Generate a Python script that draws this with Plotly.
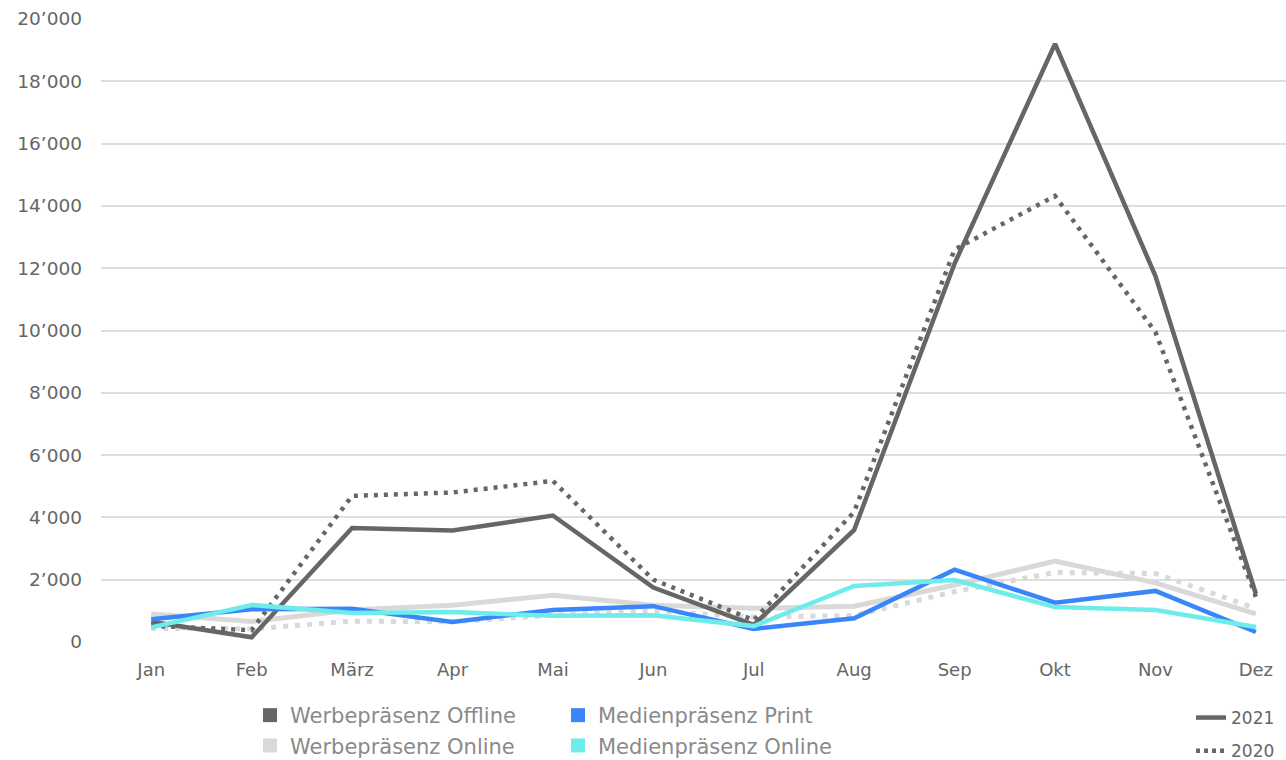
import plotly.graph_objects as go

# Monthly counts per category, 2021 vs 2020
months = ["Jan", "Feb", "März", "Apr", "Mai", "Jun", "Jul", "Aug", "Sep", "Okt", "Nov", "Dez"]

werbe_offline_2021 = [650, 150, 3660, 3580, 4060, 1750, 550, 3600, 12150, 19200, 11750, 1550]
werbe_offline_2020 = [520, 380, 4690, 4800, 5170, 2000, 700, 4180, 12600, 14320, 9950, 1450]
werbe_online_2021 = [900, 660, 1030, 1180, 1500, 1180, 1080, 1150, 1830, 2600, 1900, 900]
werbe_online_2020 = [440, 420, 670, 650, 860, 1000, 800, 850, 1620, 2230, 2200, 1080]
medien_print = [730, 1050, 1070, 640, 1030, 1150, 420, 760, 2320, 1260, 1640, 320]
medien_online = [470, 1190, 930, 960, 840, 860, 510, 1800, 1990, 1120, 1030, 480]

y_ticks = list(range(0, 20001, 2000))
y_tick_text = [f"{v:,}".replace(",", "\u2019") for v in y_ticks]

DARK = "#666666"
LIGHT = "#d9d9d9"
BLUE = "#3a86f8"
CYAN = "#6eebeb"
FONT = "DejaVu Sans"

fig = go.Figure()

def add_line(values, color, dash="solid", width=4.5):
    fig.add_trace(go.Scatter(
        x=months, y=values, mode="lines",
        line=dict(color=color, width=width, dash=dash),
        showlegend=False, hoverinfo="skip",
    ))

# drawing order: light grey lines underneath, then dark grey, then blue and cyan
add_line(werbe_online_2020, LIGHT, dash="5px,7px", width=5)
add_line(werbe_online_2021, LIGHT, width=5)
add_line(werbe_offline_2020, DARK, dash="4px,6px", width=4.5)
add_line(werbe_offline_2021, DARK, width=4.5)
add_line(medien_print, BLUE)
add_line(medien_online, CYAN)

# legend entries (squares for categories, line samples for years)
def legend_square(name, color, legend):
    fig.add_trace(go.Scatter(
        x=[None], y=[None], mode="markers", name=name,
        marker=dict(symbol="square", size=14, color=color),
        legend=legend, hoverinfo="skip",
    ))

legend_square("Werbepräsenz Offline", DARK, "legend")
legend_square("Werbepräsenz Online", LIGHT, "legend")
legend_square("Medienpräsenz Print", BLUE, "legend2")
legend_square("Medienpräsenz Online", CYAN, "legend2")

fig.add_trace(go.Scatter(x=[None], y=[None], mode="lines", name="2021", legendgroup="y2021",
                         line=dict(color=DARK, width=4.5), legend="legend3", hoverinfo="skip"))
fig.add_trace(go.Scatter(x=[None], y=[None], mode="lines", name="2020", legendgroup="y2020",
                         line=dict(color=DARK, width=4.5, dash="4px,4px"), legend="legend3", hoverinfo="skip"))

L, T, B = 101, 19, 118
W, H = 1286, 760
pw = W - L
ph = H - T - B

def px_x(x):
    return (x - L) / pw

def px_y(y):
    return (H - B - y) / ph

legend_common = dict(
    orientation="v", xanchor="left", yanchor="top",
    bgcolor="rgba(0,0,0,0)", itemclick=False, itemdoubleclick=False,
)

fig.update_layout(
    width=W, height=H,
    margin=dict(l=L, r=0, t=T, b=B, autoexpand=False),
    paper_bgcolor="white", plot_bgcolor="white",
    font=dict(family=FONT, color=DARK),
    xaxis=dict(
        type="category", range=[-0.5, 11.3],
        showgrid=False, showline=False, zeroline=False,
        ticks="", ticklabelstandoff=15,
        tickfont=dict(family=FONT, size=18, color="#666666"),
    ),
    yaxis=dict(
        range=[0, 20000], tickvals=y_ticks, ticktext=y_tick_text,
        showgrid=True, gridcolor="#dedede", gridwidth=2,
        showline=False, zeroline=False, ticks="",
        ticklabelstandoff=18,
        tickfont=dict(family=FONT, size=18.5, color="#666666"),
    ),
    legend=dict(x=px_x(250), y=px_y(695), font=dict(family=FONT, size=21, color="#8a8a8a"),
                tracegroupgap=0, **legend_common),
    legend2=dict(x=px_x(558), y=px_y(695), font=dict(family=FONT, size=21, color="#8a8a8a"),
                 tracegroupgap=0, **legend_common),
    legend3=dict(x=px_x(1191), y=px_y(700), font=dict(family=FONT, size=17, color="#666666"),
                 tracegroupgap=8, **legend_common),
)

fig.write_html("out.html")
